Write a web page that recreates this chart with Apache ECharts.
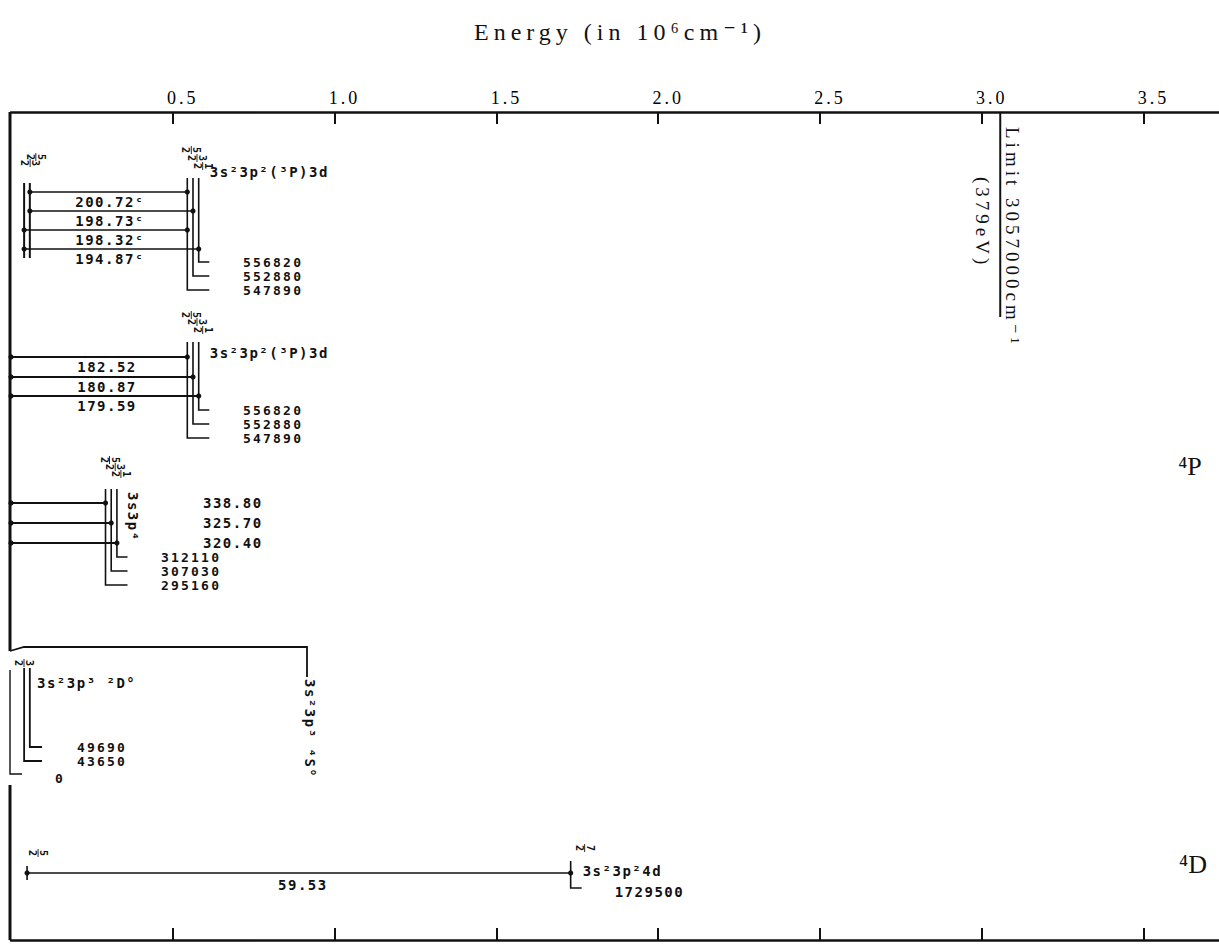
<!DOCTYPE html>
<html><head><meta charset="utf-8">
<script src="https://cdn.jsdelivr.net/npm/echarts@6/dist/echarts.min.js"></script>
<style>
html,body{margin:0;padding:0;background:#fff;}
#chart{width:1219px;height:944px;}
#chart text[style*="24px"]{letter-spacing:5px;}
#chart text[style*="18px"]{letter-spacing:3px;}
#chart text[style*="19px"]{letter-spacing:4px;}
#chart text[style*="14px"]{letter-spacing:1.5px;}
#chart text[style*="13px"]{letter-spacing:2.2px;}
</style></head><body><div id="chart"></div>
<script>
// ================= DATA =================
const tickValues = [0.5, 1.0, 1.5, 2.0, 2.5, 3.0, 3.5];
const tickLabels = ['0.5', '1.0', '1.5', '2.0', '2.5', '3.0', '3.5'];
const axisTitle = 'Energy (in 10⁶cm⁻¹)';

// energy levels (cm^-1), J values and configurations
const groundConfig = '3s²3p³ ⁴S°';
const groundLevels = [0];
const groundJ = ['3/2'];
const d2Config = '3s²3p³ ²D°';
const d2Levels = [43650, 49690];
const d2J = ['3/2', '5/2'];
const sp4Config = '3s3p⁴';
const sp4Levels = [295160, 307030, 312110];
const sp4J = ['5/2', '3/2', '1/2'];
const d3Config = '3s²3p²(³P)3d';
const d3Levels = [547890, 552880, 556820];
const d3J = ['5/2', '3/2', '1/2'];
const d4Config = '3s²3p²4d';
const d4Levels = [1729500];
const d4J = ['7/2'];

// transitions (wavelengths in Å)
const wlD2toD3 = ['200.72ᶜ', '198.73ᶜ', '198.32ᶜ', '194.87ᶜ'];
const lowD2toD3 = [49690, 49690, 43650, 43650];
const upD2toD3 = [547890, 552880, 547890, 556820];

const wlGtoD3 = ['182.52', '180.87', '179.59'];
const upGtoD3 = [547890, 552880, 556820];

const wlGtoSp4 = ['338.80', '325.70', '320.40'];
const upGtoSp4 = [295160, 307030, 312110];

const wlD2toD4 = ['59.53'];
const lowD2toD4 = [49690];
const upD2toD4 = [1729500];

const limitValue = 3057000;
const limitText = 'Limit 3057000cm⁻¹';
const limitEV = '(379eV)';
const termLabels = ['⁴P', '⁴D'];

// ================= STYLE / LAYOUT =================
const INK = '#111';
const SPREAD = 5.7, NUDGE = -1;
const NUM_FONT = 'bold 14px "DejaVu Sans Mono", monospace';
const LVL_FONT = 'bold 13px "DejaVu Sans Mono", monospace';
const FRAC_FONT = 'bold 10px "DejaVu Sans Mono", monospace';
const SERIF = '"Liberation Serif", "DejaVu Serif", serif';
const ROT = -Math.PI / 2;

function X(api, E) { return api.coord([E / 1e6, 500])[0]; }
function Y(api, y) { return api.coord([0, y])[1]; }
function groupX(api, levels) { const b = X(api, levels[0]) + NUDGE; return levels.map((e, i) => b + i * SPREAD); }

function ln(x1, y1, x2, y2, w) { return { type: 'line', shape: { x1, y1, x2, y2 }, style: { stroke: INK, lineWidth: w || 1.6 } }; }
function poly(points, w) { return { type: 'polyline', shape: { points }, style: { stroke: INK, fill: null, lineWidth: w || 1.6 } }; }
function dot(x, y) { return { type: 'circle', shape: { cx: x, cy: y, r: 2.6 }, style: { fill: INK } }; }
function txt(x, y, s, font, align, rot) {
  return { type: 'text', x: x, y: y, rotation: rot || 0,
    style: { text: s, font: font, fill: INK, align: align || 'left', verticalAlign: 'middle',
      textAlign: align || 'left', textVerticalAlign: 'middle' } };
}
function frac(cx, cy, j) {
  const p = j.split('/');
  return [txt(cx + 5.5, cy, p[0], FRAC_FONT, 'center', ROT), ln(cx, cy - 4, cx, cy + 4, 0.9), txt(cx - 5.5, cy, p[1], FRAC_FONT, 'center', ROT)];
}

// Panel A: 2D° -> 3d 4P
function panelA(api) {
  const L = { lowTop: 183, lowBot: 258, upTop: 178, upEnds: [290, 276, 262], rows: [192, 211, 230, 249],
    labX: 110, labDy: 10, fracLowY: [163, 157], fracUpY: [150, 158, 166], cfgY: 172, enX: 243, elbow: 22 };
  const lx = groupX(api, d2Levels), ux = groupX(api, d3Levels), c = [];
  lx.forEach((x, i) => { c.push(ln(x, Y(api, L.lowTop), x, Y(api, L.lowBot), 2)); c.push(...frac(x + 6, Y(api, L.fracLowY[i]), d2J[i])); });
  ux.forEach((x, i) => {
    const ye = Y(api, L.upEnds[i]);
    c.push(poly([[x, Y(api, L.upTop)], [x, ye], [ux[0] + L.elbow, ye]], 1.6));
    c.push(txt(L.enX, ye, String(d3Levels[i]), LVL_FONT));
    c.push(...frac(x + 4, Y(api, L.fracUpY[i]), d3J[i]));
  });
  c.push(txt(ux[2] + 11, Y(api, L.cfgY), d3Config, NUM_FONT));
  wlD2toD3.forEach((w, k) => {
    const x1 = lx[d2Levels.indexOf(lowD2toD3[k])], x2 = ux[d3Levels.indexOf(upD2toD3[k])], y = Y(api, L.rows[k]);
    c.push(ln(x1, y, x2, y, 1.6), dot(x1, y), dot(x2, y), txt(L.labX, y + L.labDy, w, NUM_FONT, 'center'));
  });
  return c;
}
// Panel B: ground -> 3d 4P
function panelB(api) {
  const L = { upTop: 342, upEnds: [438, 424, 410], rows: [357, 377, 396], labX: 107, labDy: 10,
    fracUpY: [315, 322, 330], cfgY: 353, enX: 243, elbow: 22 };
  const gx = X(api, groundLevels[0]), ux = groupX(api, d3Levels), c = [];
  ux.forEach((x, i) => {
    const ye = Y(api, L.upEnds[i]);
    c.push(poly([[x, Y(api, L.upTop)], [x, ye], [ux[0] + L.elbow, ye]], 1.6));
    c.push(txt(L.enX, ye, String(d3Levels[i]), LVL_FONT));
    c.push(...frac(x + 4, Y(api, L.fracUpY[i]), d3J[i]));
  });
  c.push(txt(ux[2] + 11, Y(api, L.cfgY), d3Config, NUM_FONT));
  wlGtoD3.forEach((w, k) => {
    const x2 = ux[d3Levels.indexOf(upGtoD3[k])], y = Y(api, L.rows[k]);
    c.push(ln(gx, y, x2, y, 1.8), dot(gx, y), dot(x2, y), txt(L.labX, y + L.labDy, w, NUM_FONT, 'center'));
  });
  return c;
}
// Panel C: ground -> 3s3p4 4P
function panelC(api) {
  const L = { upTop: 489, upEnds: [585, 571, 557], rows: [503, 523, 543], labX: 203,
    fracUpY: [460, 467, 474], cfgY: 492, enX: 161, elbow: 22 };
  const gx = X(api, groundLevels[0]), ux = groupX(api, sp4Levels), c = [];
  ux.forEach((x, i) => {
    const ye = Y(api, L.upEnds[i]);
    c.push(poly([[x, Y(api, L.upTop)], [x, ye], [ux[0] + L.elbow, ye]], 1.6));
    c.push(txt(L.enX, ye, String(sp4Levels[i]), LVL_FONT));
    c.push(...frac(x + 4, Y(api, L.fracUpY[i]), sp4J[i]));
  });
  c.push(txt(ux[2] + 16, Y(api, L.cfgY), sp4Config, NUM_FONT, 'left', ROT));
  wlGtoSp4.forEach((w, k) => {
    const x2 = ux[sp4Levels.indexOf(upGtoSp4[k])], y = Y(api, L.rows[k]);
    c.push(ln(gx, y, x2, y, 1.8), dot(gx, y), dot(x2, y), txt(L.labX, y, w, NUM_FONT));
  });
  return c;
}
// Panel D: ground configuration 3s2 3p3
function panelD(api) {
  const gx = X(api, groundLevels[0]) - 1, dx = groupX(api, d2Levels), c = [];
  c.push(ln(gx, Y(api, 112), gx, Y(api, 651), 3));
  c.push(poly([[gx, Y(api, 651)], [gx + 14, Y(api, 647)], [307, Y(api, 647)], [307, Y(api, 677)]], 1.8));
  c.push(txt(310, Y(api, 679), groundConfig, NUM_FONT, 'left', ROT));
  c.push(...frac(24, Y(api, 663), groundJ[0]));
  c.push(poly([[gx, Y(api, 670)], [gx, Y(api, 774)], [gx + 12, Y(api, 774)]], 1.4));
  c.push(txt(55, Y(api, 778), String(groundLevels[0]), LVL_FONT));
  const ends = [761, 747];
  dx.forEach((x, i) => {
    c.push(poly([[x, Y(api, 668)], [x, Y(api, ends[i])], [42, Y(api, ends[i])]], 1.8));
    c.push(txt(77, Y(api, ends[i]), String(d2Levels[i]), LVL_FONT));
  });
  c.push(txt(37, Y(api, 683), d2Config, NUM_FONT));
  c.push(ln(gx, Y(api, 785), gx, Y(api, 940), 3));
  return c;
}
// Panel E: 2D° -> 4d 4D
function panelE(api) {
  const c = [];
  wlD2toD4.forEach((w, k) => {
    const x1 = X(api, lowD2toD4[k]), x2 = X(api, upD2toD4[k]), y = Y(api, 873);
    c.push(ln(x1, Y(api, 866), x1, Y(api, 880), 1.6));
    c.push(poly([[x2, Y(api, 861)], [x2, Y(api, 888)], [x2 + 11, Y(api, 888)]], 1.6));
    c.push(ln(x1, y, x2, y, 1.4), dot(x1, y), dot(x2, y));
    c.push(txt((x1 + x2) / 2 + 4, Y(api, 885), w, NUM_FONT, 'center'));
    c.push(...frac(x1 + 11, Y(api, 853), d2J[1]));
    c.push(...frac(x2 + 14, Y(api, 848), d4J[0]));
    c.push(txt(x2 + 12, Y(api, 871), d4Config, NUM_FONT));
    c.push(txt(x2 + 44, Y(api, 892), String(d4Levels[0]), NUM_FONT));
  });
  return c;
}
// Limit and term labels
function panelLimit(api) {
  const x = X(api, limitValue), c = [];
  c.push(ln(x, Y(api, 112), x, Y(api, 317), 2));
  c.push(txt(x + 12, Y(api, 127), limitText, '19px ' + SERIF, 'left', ROT));
  c.push(txt(x - 18, Y(api, 177), limitEV, '19px ' + SERIF, 'left', ROT));
  c.push(txt(1190, Y(api, 466), termLabels[0], '26px ' + SERIF, 'center'));
  c.push(txt(1193, Y(api, 864), termLabels[1], '26px ' + SERIF, 'center'));
  return c;
}

function series(name, fn) {
  return { type: 'custom', name: name, silent: true, animation: false, xAxisIndex: 0, yAxisIndex: 0,
    data: [[0, 500]], renderItem: (params, api) => ({ type: 'group', children: fn(api) }) };
}

const chart = echarts.init(document.getElementById('chart'), null, { renderer: 'svg' });
const labelFmt = v => { const i = tickValues.findIndex(t => Math.abs(t - v) < 1e-6); return i >= 0 ? tickLabels[i] : ''; };
chart.setOption({
  animation: false,
  backgroundColor: '#fff',
  graphic: [{ type: 'text', x: 620, y: 32, style: { text: axisTitle, font: '24px ' + SERIF, fill: INK,
    align: 'center', verticalAlign: 'middle', textAlign: 'center', textVerticalAlign: 'middle' } }],
  grid: { left: 11, right: 0, top: 112, bottom: 4 },
  xAxis: [
    { type: 'value', position: 'top', min: 0, max: 3.733, interval: 0.5,
      axisLine: { lineStyle: { color: INK, width: 2.5 } },
      axisTick: { inside: true, length: 12, lineStyle: { color: INK, width: 2 }, customValues: tickValues },
      axisLabel: { customValues: tickValues, formatter: labelFmt, color: '#000', fontFamily: SERIF, fontSize: 18,
        margin: 5, padding: [0, 0, 0, 20] },
      splitLine: { show: false } },
    { type: 'value', position: 'bottom', min: 0, max: 3.733, interval: 0.5,
      axisLine: { lineStyle: { color: INK, width: 2.5 } },
      axisTick: { inside: true, length: 12, lineStyle: { color: INK, width: 2 }, customValues: tickValues },
      axisLabel: { show: false }, splitLine: { show: false } }
  ],
  yAxis: { type: 'value', min: 112, max: 940, inverse: true, show: false },
  series: [
    series('ground', panelD), series('d3-from-2D', panelA), series('d3-from-ground', panelB),
    series('3s3p4', panelC), series('4d', panelE), series('limit', panelLimit)
  ]
});
</script></body></html>
